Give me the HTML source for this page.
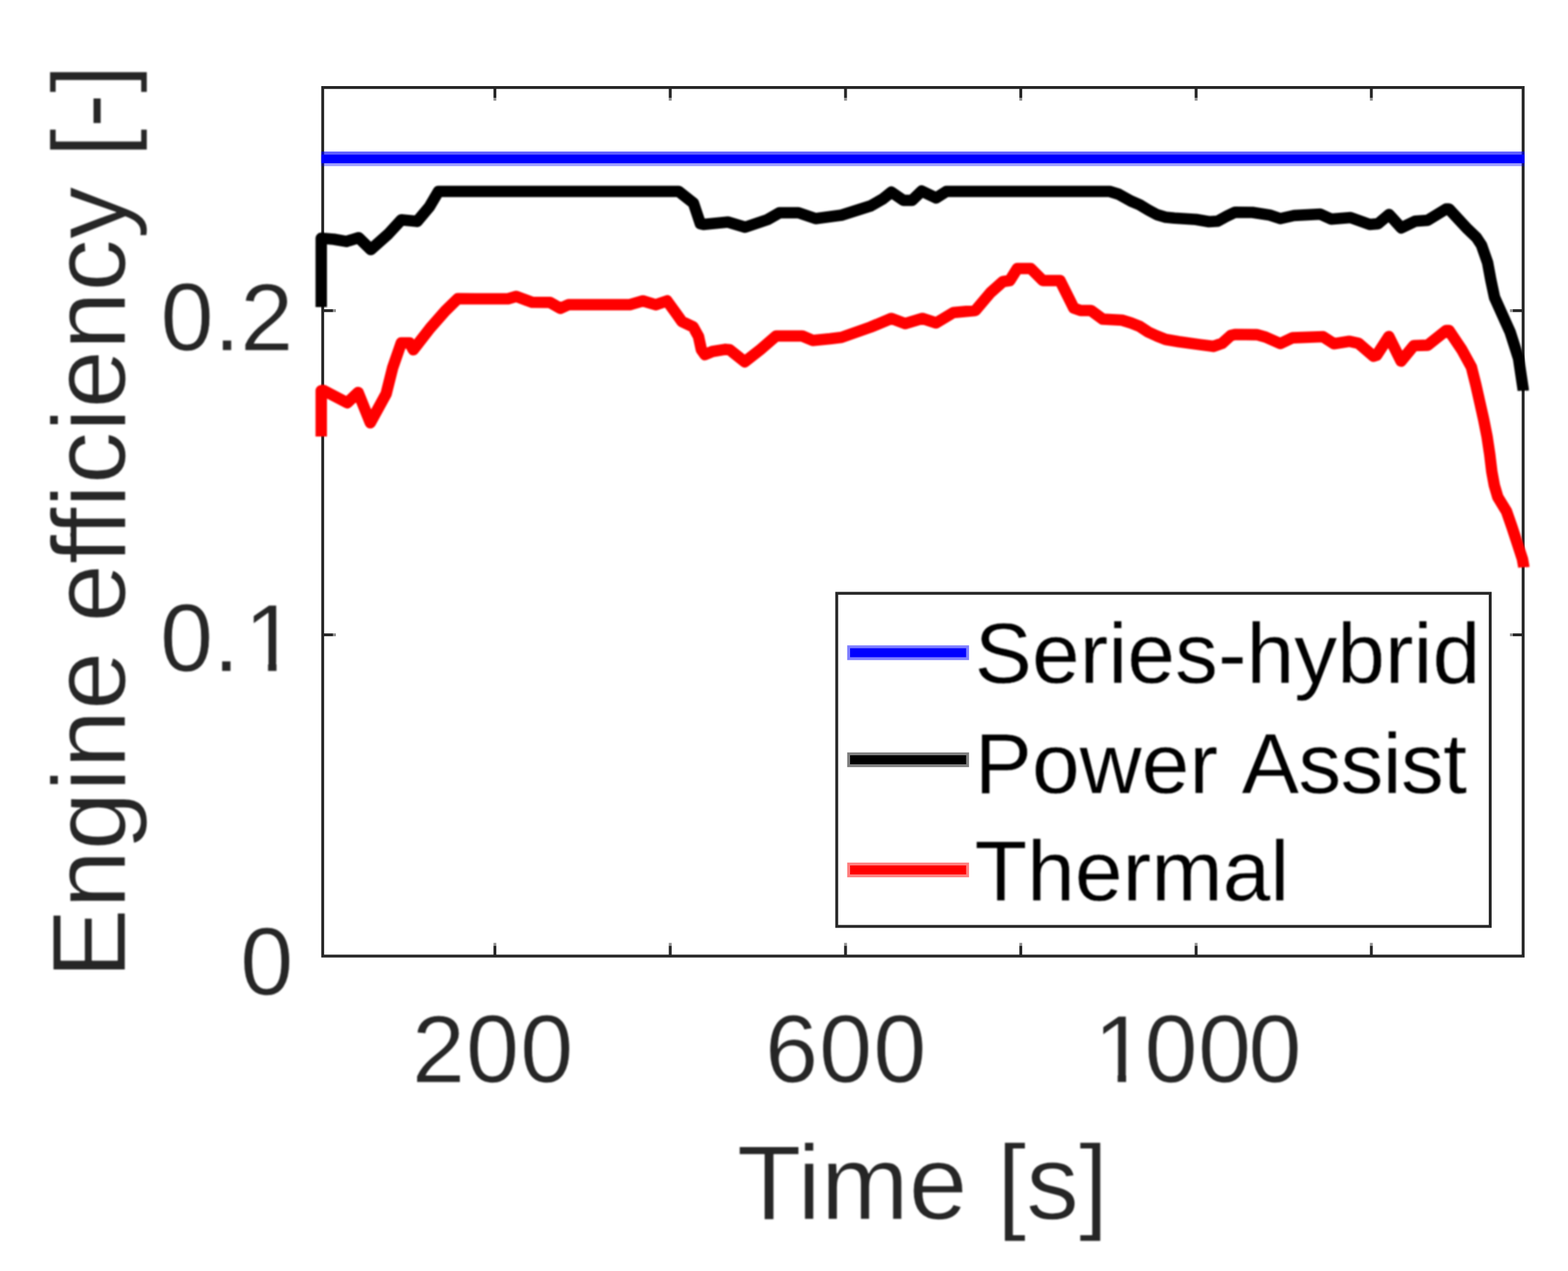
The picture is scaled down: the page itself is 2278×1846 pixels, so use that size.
<!DOCTYPE html>
<html lang="en">
<head>
<meta charset="utf-8">
<title>Engine efficiency</title>
<style>
html,body{margin:0;padding:0;background:#fff;}
body{width:2278px;height:1846px;overflow:hidden;}
svg{display:block;font-family:"Liberation Sans",sans-serif;}
.ax{stroke:#262626;stroke-width:4.2;fill:none;stroke-linecap:butt;}
.lbl{fill:#262626;}
.soft{filter:blur(0.9px);}
.softt{filter:blur(0.9px);}
.e1 text{stroke:#fff;stroke-width:1px;stroke-linejoin:round;}
.e2 text{stroke:#fff;stroke-width:1.4px;stroke-linejoin:round;}
.e3 text{stroke:#fff;stroke-width:0.5px;stroke-linejoin:round;}
.crv{fill:none;stroke-width:16.6;stroke-linejoin:round;stroke-linecap:butt;}
</style>
</head>
<body>
<svg width="2278" height="1846" viewBox="0 0 2278 1846">
<rect x="0" y="0" width="2278" height="1846" fill="#ffffff"/>

<g class="ax">
<rect x="468.8" y="127.1" width="1744" height="1261.5"/>
<line x1="719" y1="1388.6" x2="719" y2="1373.6"/>
<line x1="719" y1="1373.6" x2="719" y2="1369.43" stroke-opacity="0.5"/>
<line x1="719" y1="127.1" x2="719" y2="142.1"/>
<line x1="719" y1="142.1" x2="719" y2="146.27" stroke-opacity="0.5"/>
<line x1="973.7" y1="1388.6" x2="973.7" y2="1373.6"/>
<line x1="973.7" y1="1373.6" x2="973.7" y2="1369.43" stroke-opacity="0.5"/>
<line x1="973.7" y1="127.1" x2="973.7" y2="142.1"/>
<line x1="973.7" y1="142.1" x2="973.7" y2="146.27" stroke-opacity="0.5"/>
<line x1="1228.4" y1="1388.6" x2="1228.4" y2="1373.6"/>
<line x1="1228.4" y1="1373.6" x2="1228.4" y2="1369.43" stroke-opacity="0.5"/>
<line x1="1228.4" y1="127.1" x2="1228.4" y2="142.1"/>
<line x1="1228.4" y1="142.1" x2="1228.4" y2="146.27" stroke-opacity="0.5"/>
<line x1="1483" y1="1388.6" x2="1483" y2="1373.6"/>
<line x1="1483" y1="1373.6" x2="1483" y2="1369.43" stroke-opacity="0.5"/>
<line x1="1483" y1="127.1" x2="1483" y2="142.1"/>
<line x1="1483" y1="142.1" x2="1483" y2="146.27" stroke-opacity="0.5"/>
<line x1="1737.7" y1="1388.6" x2="1737.7" y2="1373.6"/>
<line x1="1737.7" y1="1373.6" x2="1737.7" y2="1369.43" stroke-opacity="0.5"/>
<line x1="1737.7" y1="127.1" x2="1737.7" y2="142.1"/>
<line x1="1737.7" y1="142.1" x2="1737.7" y2="146.27" stroke-opacity="0.5"/>
<line x1="1992.3" y1="1388.6" x2="1992.3" y2="1373.6"/>
<line x1="1992.3" y1="1373.6" x2="1992.3" y2="1369.43" stroke-opacity="0.5"/>
<line x1="1992.3" y1="127.1" x2="1992.3" y2="142.1"/>
<line x1="1992.3" y1="142.1" x2="1992.3" y2="146.27" stroke-opacity="0.5"/>
<line x1="468.8" y1="922" x2="483.8" y2="922"/>
<line x1="483.8" y1="922" x2="487.97" y2="922" stroke-opacity="0.5"/>
<line x1="2212.8" y1="922" x2="2197.8" y2="922"/>
<line x1="2197.8" y1="922" x2="2193.63" y2="922" stroke-opacity="0.5"/>
<line x1="468.8" y1="451.2" x2="483.8" y2="451.2"/>
<line x1="483.8" y1="451.2" x2="487.97" y2="451.2" stroke-opacity="0.5"/>
<line x1="2212.8" y1="451.2" x2="2197.8" y2="451.2"/>
<line x1="2197.8" y1="451.2" x2="2193.63" y2="451.2" stroke-opacity="0.5"/>
</g>
<g class="lbl softt e1" font-size="138.6">
<text x="426" y="1445" text-anchor="end">0</text>
<text x="232.5" y="975">0.<tspan dx="6.6">1</tspan></text>
<rect x="362" y="962" width="27.45" height="16" fill="#ffffff"/>
<rect x="401.7" y="962" width="26.3" height="16" fill="#ffffff"/>
<text x="426" y="508.6" text-anchor="end">0.2</text>
<text x="598.5" y="1571.8" letter-spacing="1.5">200</text>
<text x="1111.5" y="1571.8" letter-spacing="1.5">600</text>
<text x="1589" y="1571.8">1<tspan x="1662.7 1740.4 1813.7">000</tspan></text>
<rect x="1596.5" y="1558.8" width="27.25" height="16.2" fill="#ffffff"/>
<rect x="1636" y="1558.8" width="26" height="16.2" fill="#ffffff"/>
</g>
<g class="lbl softt e2" font-size="152.5">
<text x="1070.5" y="1770.8" font-size="153.4">Time [s]</text>
<text transform="translate(182 1421.2) rotate(-90)">Engine efficiency [-]</text>
<rect x="102.2" y="774.2" width="8.8" height="5.2" fill="#262626"/>
</g>
<g>
<rect x="466.8" y="220.1" width="1748" height="4.3" fill="#0000ff" fill-opacity="0.62"/>
<rect x="466.8" y="224.3" width="1748" height="12.8" fill="#0000ff"/>
<rect x="466.8" y="237" width="1748" height="4.3" fill="#0000ff" fill-opacity="0.38"/>
</g>
<g class="crv soft">
<path stroke="#000000" d="M466.7,446 L466.7,346 L485,347.5 L503,350.7 L521,345.3 L538.7,362.5 L564,340 L583,319.3 L606,321.6 L623.6,300.7 L637,278 L986,278 L1007.5,295 L1017.5,325 L1022,326 L1057.5,322.5 L1082.5,330 L1115,319 L1132.5,309 L1160,309 L1185,317.5 L1222.5,312.5 L1265,299 L1282.5,289 L1295,279 L1312.5,291 L1325,291 L1339,277.5 L1360,287.5 L1375,278 L1612,278 L1625,282 L1643,292 L1655.6,297.3 L1668.2,305 L1680.8,311.8 L1693.4,315.5 L1706,316.8 L1737.6,318.7 L1756.5,322 L1769,321.2 L1781.7,314.3 L1794.3,308.2 L1819.5,308.5 L1844.7,312.4 L1860,317.5 L1880,313 L1918,311 L1934,318.2 L1962,316 L1990,326 L2002,325 L2018,311.5 L2035.7,331 L2056,321.2 L2074,320 L2101,303.5 L2105,303.5 L2132,332.6 L2145,345 L2152.3,356 L2161.2,381.4 L2165.9,406.7 L2171.3,432 L2182.7,457.4 L2194.1,482.7 L2206.2,520.7 L2212.8,565 L2212.9,567.5"/>
<path stroke="#ff0000" d="M466.7,634 L466.7,567.5 L470,567 L504.5,585 L520.3,570 L538,614 L561,572 L570.5,534 L583,498 L595,498 L600.5,508 L625,476.5 L647,451.5 L665,433.8 L690,434 L738,434 L750,430.5 L773,439 L799,439.3 L814,447.8 L826,442.5 L915,442.5 L934,437 L952.7,442.6 L969.1,437 L981.8,454.5 L990.7,467 L1007,474.8 L1014.8,488.7 L1019,508 L1024,515 L1035,510.5 L1054,507.4 L1060,508 L1082,525.5 L1104.7,507.7 L1127.5,488 L1165.5,488 L1180.7,494.4 L1206,492 L1222.5,490 L1265,475 L1295,462.5 L1315,470 L1340,462.5 L1360,469 L1385,454 L1417,451 L1439,425 L1457,409 L1467,407.5 L1478,390 L1497.5,390 L1515,407.5 L1540,407.5 L1560,447.5 L1570,451 L1585,451 L1602,463.5 L1630,465 L1643,469 L1655.6,474 L1668.2,482.3 L1680.8,488 L1693.4,493 L1712.4,496.2 L1743.9,500.6 L1762.8,503.1 L1775.4,498.7 L1788,487.4 L1794.3,485.8 L1825.8,486.1 L1838.4,489.5 L1860,499 L1878,490.6 L1922,489 L1938,499.2 L1960,495.7 L1973.6,498.6 L1995.5,517.5 L2000,516 L2017.7,488.8 L2035.5,524.5 L2054,502 L2074,501.4 L2101,480 L2105,480 L2123.8,508 L2137.7,533.3 L2144.1,558.7 L2149.8,584 L2155.5,609.4 L2160.5,634.7 L2164.3,660 L2167.3,685 L2171,705 L2176,722 L2188.6,742.6 L2196.7,765.8 L2204.3,789 L2211.8,812 L2213.6,822 L2213.7,824"/>
</g>
<g>
<rect x="1215.6" y="861.7" width="949.4" height="483.8" fill="#ffffff" stroke="#262626" stroke-width="4.2"/>
<rect x="1230.8" y="937.3" width="177" height="21.4" fill="#0000ff" fill-opacity="0.5"/>
<rect x="1235" y="941.5" width="168.6" height="13" fill="#0000ff"/>
<rect x="1230.8" y="1092.8" width="177" height="21.4" fill="#000000" fill-opacity="0.5"/>
<rect x="1235" y="1097" width="168.6" height="13" fill="#000000"/>
<rect x="1230.8" y="1252.8" width="177" height="21.4" fill="#ff0000" fill-opacity="0.5"/>
<rect x="1235" y="1257" width="168.6" height="13" fill="#ff0000"/>
<g class="softt e3" fill="#000000" font-size="124.7">
<text x="1416" y="991.5">Series-hybrid</text>
<text x="1416" y="1151.6">Power <tspan letter-spacing="-1.1">Assist</tspan></text>
<text x="1416" y="1308">Thermal</text>
</g></g>
</svg>
</body>
</html>
